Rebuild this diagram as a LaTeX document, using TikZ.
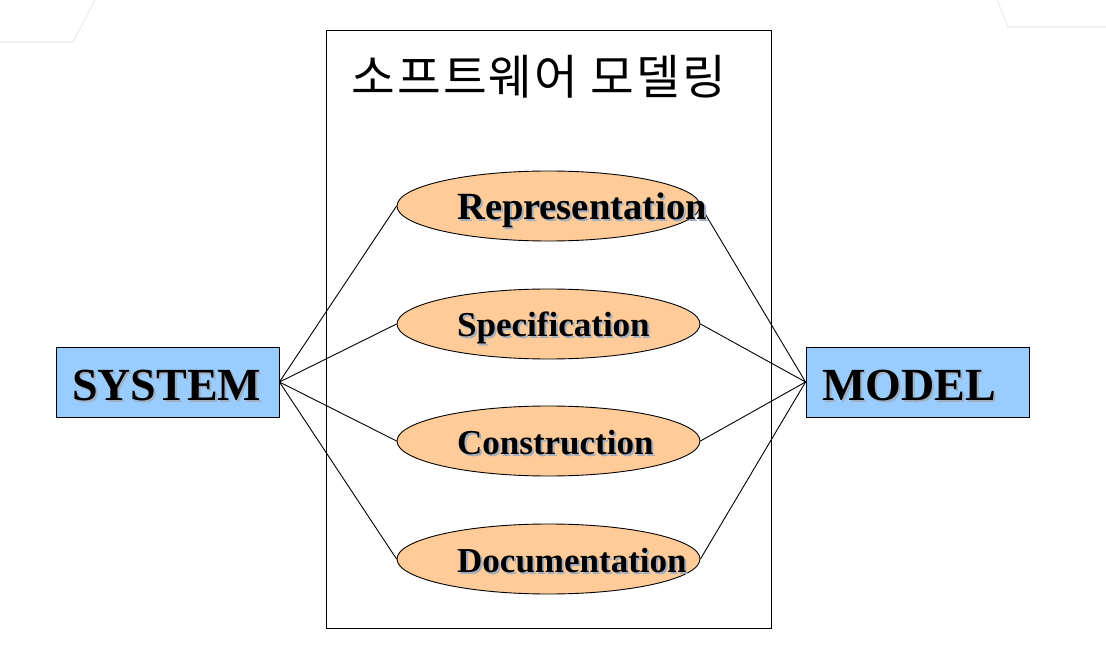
\documentclass[tikz,border=0pt]{standalone}
\usepackage{fontspec}
\setmainfont{Liberation Serif}
\newfontfamily\krfont{Noto Sans CJK KR}
\definecolor{boxblue}{HTML}{99CCFF}
\definecolor{peach}{HTML}{FFCC99}
\definecolor{shadowc}{HTML}{A0AEC0}
\definecolor{faint}{HTML}{EFEFEF}
\newcommand{\kk}{\kern2pt}
\tikzset{
  frame/.style={draw=black, line width=0.9pt},
  endbox/.style={draw=black, fill=boxblue, line width=0.9pt, minimum width=223pt, minimum height=70pt, inner sep=0pt},
  oval/.style={ellipse, draw=black, fill=peach, line width=0.9pt, minimum width=303pt, minimum height=70pt, inner sep=0pt},
  link/.style={draw=black, line width=0.9pt},
  bigtxt/.style={inner sep=0pt, anchor=base west, font=\bfseries\fontsize{46}{50}\selectfont},
  midtxt/.style={inner sep=0pt, anchor=base west, font=\bfseries\fontsize{35}{40}\selectfont},
  reptxt/.style={inner sep=0pt, anchor=base west, font=\bfseries\fontsize{38.5}{42}\selectfont},
}
\usetikzlibrary{shapes.geometric}
\begin{document}
\begin{tikzpicture}[x=1pt,y=-1pt]
\useasboundingbox (0,0) rectangle (1106,660);
% faint background corners
\draw[faint, line width=1.5pt] (0,42) -- (73,42) -- (95,0);
\draw[faint, line width=1.5pt] (997,0) -- (1008,27) -- (1106,27);
% frame
\node[frame, minimum width=445pt, minimum height=598pt, inner sep=0pt] (frame) at (548.5,329) {};
\node[inner sep=0pt, anchor=base, font=\krfont\fontsize{47.5}{52}\selectfont] (title) at (539,95) {소\kk 프\kk 트\kk 웨\kk 어\kk{} 모\kk 델\kk 링};
% end boxes
\node[endbox] (sys) at (167.5,382) {};
\node[endbox] (mod) at (917.5,382) {};
% ellipses
\node[oval] (e1) at (548.5,206) {};
\node[oval] (e2) at (548.5,324) {};
\node[oval] (e3) at (548.5,441) {};
\node[oval] (e4) at (548.5,559) {};
% links
\foreach \e in {e1,e2,e3,e4}{
  \draw[link] (sys.east) -- (\e.west);
  \draw[link] (\e.east) -- (mod.west);
}
% labels with shadows
\node[bigtxt, text=shadowc] (syss) at (74,402) {SYSTEM};
\node[bigtxt] (syst) at (72,400) {SYSTEM};
\node[bigtxt, text=shadowc] (mods) at (824,402) {MODEL};
\node[bigtxt] (modt) at (822,400) {MODEL};
\node[reptxt, text=shadowc] (t1s) at (459,222) {Representation};
\node[reptxt] (t1) at (457,220) {Representation};
\node[midtxt, text=shadowc] (t2s) at (459,339) {Specification};
\node[midtxt] (t2) at (457,337) {Specification};
\node[midtxt, text=shadowc] (t3s) at (459,456) {Construction};
\node[midtxt] (t3) at (457,454) {Construction};
\node[midtxt, text=shadowc] (t4s) at (459,574) {Documentation};
\node[midtxt] (t4) at (457,572) {Documentation};
\end{tikzpicture}
\end{document}
